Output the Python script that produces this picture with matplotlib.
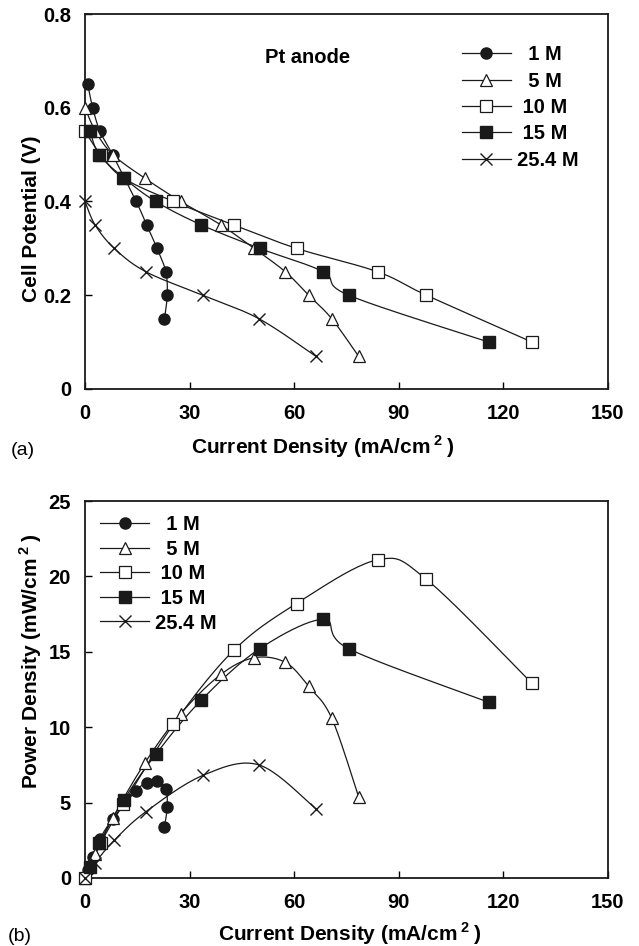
import matplotlib
matplotlib.use("Agg")
import matplotlib.pyplot as plt
from matplotlib.lines import Line2D
import numpy as np

plt.rcParams['font.family'] = ['Liberation Sans', 'DejaVu Sans']
plt.rcParams['font.weight'] = 'bold'
plt.rcParams['mathtext.fontset'] = 'custom'
plt.rcParams['mathtext.rm'] = 'Liberation Sans:bold'
plt.rcParams['mathtext.bf'] = 'Liberation Sans:bold'

FS = 14.5
FS_LAB = 15

# current density (mA/cm2), cell potential (V), power density (mW/cm2)
labels = ['1 M', '5 M', '10 M', '15 M', '25.4 M']

i_1m = [0.8, 2.2, 4.3, 7.9, 14.7, 17.7, 20.7, 23.2, 23.6, 22.8]
v_1m = [0.65, 0.60, 0.55, 0.50, 0.40, 0.35, 0.30, 0.25, 0.20, 0.15]
p_1m = [0.5, 1.4, 2.6, 3.9, 5.8, 6.3, 6.4, 5.9, 4.7, 3.4]

i_5m = [0, 3, 8, 17.1, 27.5, 39, 48.5, 57.5, 64.2, 70.8, 78.5]
v_5m = [0.60, 0.55, 0.50, 0.45, 0.40, 0.35, 0.30, 0.25, 0.20, 0.15, 0.07]
p_5m = [0, 1.6, 4.0, 7.6, 10.9, 13.5, 14.6, 14.3, 12.7, 10.6, 5.4]

i_10m = [0, 4.5, 11, 25.4, 42.7, 60.7, 84, 98, 128.3]
v_10m = [0.55, 0.50, 0.45, 0.40, 0.35, 0.30, 0.25, 0.20, 0.10]
p_10m = [0, 2.3, 4.9, 10.2, 15.1, 18.2, 21.1, 19.8, 12.9]

i_15m = [1.4, 4.1, 11.2, 20.3, 33.4, 50.1, 68.4, 75.7, 115.9]
v_15m = [0.55, 0.50, 0.45, 0.40, 0.35, 0.30, 0.25, 0.20, 0.10]
p_15m = [0.75, 2.3, 5.2, 8.2, 11.8, 15.2, 17.15, 15.2, 11.65]

i_25m = [0, 2.9, 8.4, 17.5, 33.8, 49.9, 66.2]
v_25m = [0.40, 0.35, 0.30, 0.25, 0.20, 0.15, 0.07]
p_25m = [0, 1.0, 2.5, 4.4, 6.8, 7.5, 4.6]

x_ticks = [0, 30, 60, 90, 120, 150]
v_ticks = [0, 0.2, 0.4, 0.6, 0.8]
v_ticklabels = ['0', '0.2', '0.4', '0.6', '0.8']
p_ticks = [0, 5, 10, 15, 20, 25]

LC = '#1a1a1a'
styles = [
    dict(marker='o', ms=8, mfc=LC, mec=LC),
    dict(marker='^', ms=9, mfc='white', mec=LC, mew=0.9),
    dict(marker='s', ms=8, mfc='white', mec=LC, mew=0.9),
    dict(marker='s', ms=8, mfc=LC, mec=LC),
    dict(marker='x', ms=9, mfc='none', mec=LC, mew=1.0),
]


def smooth(x, y, sx, sy, n=24):
    # excel-like smoothed line, built in screen-ish scale
    pts = np.column_stack([np.asarray(x, float) * sx, np.asarray(y, float) * sy])
    ext = np.vstack([pts[0], pts, pts[-1]])
    t = np.linspace(0, 1, n)[:, None]
    segs = []
    for k in range(len(pts) - 1):
        p0, p1, p2, p3 = ext[k], ext[k + 1], ext[k + 2], ext[k + 3]
        c1 = p1 + (p2 - p0) / 6
        c2 = p2 - (p3 - p1) / 6
        segs.append((1 - t) ** 3 * p1 + 3 * (1 - t) ** 2 * t * c1
                    + 3 * (1 - t) * t ** 2 * c2 + t ** 3 * p2)
    s = np.vstack(segs)
    return s[:, 0] / sx, s[:, 1] / sy


def draw(ax, series, ymax):
    sx = 523 / 150
    sy = 376 / ymax
    for (x, y), st in zip(series, styles):
        xs, ys = smooth(x, y, sx, sy)
        ax.plot(xs, ys, color=LC, lw=0.9, zorder=2)
        ax.plot(x, y, ls='none', zorder=3, clip_on=False, **st)


def style_axes(ax, ymax, yt, ytl):
    ax.set_xlim(0, 150)
    ax.set_ylim(0, ymax)
    ax.set_xticks(x_ticks)
    ax.set_yticks(yt)
    ax.set_yticklabels(ytl)
    ax.tick_params(direction='in', length=5, width=1.0, labelsize=FS)
    ax.tick_params(axis='x', pad=11)
    ax.tick_params(axis='y', pad=10)
    for sp in ax.spines.values():
        sp.set_linewidth(1.3)
        sp.set_color(LC)


def add_legend(ax, x, y, spacing):
    handles = [Line2D([], [], color=LC, lw=0.9, **st) for st in styles]
    names = ['  1 M', '  5 M', ' 10 M', ' 15 M', '25.4 M']
    leg = ax.legend(handles, names, loc='upper left', bbox_to_anchor=(x, y),
                    frameon=False, borderpad=0, borderaxespad=0,
                    handlelength=2.43, handletextpad=0.3, labelspacing=spacing,
                    prop=dict(size=FS, weight='bold'))
    return leg


xlab = r'Current Density (mA/cm$\,^{2}\,$)'

fig = plt.figure(figsize=(6.39, 9.46), dpi=100)
ax1 = fig.add_axes([0.133, 0.5888, 0.818, 0.3964])
ax2 = fig.add_axes([0.133, 0.0719, 0.818, 0.3985])

draw(ax1, [(i_1m, v_1m), (i_5m, v_5m), (i_10m, v_10m), (i_15m, v_15m), (i_25m, v_25m)], 0.8)
style_axes(ax1, 0.8, v_ticks, v_ticklabels)
ax1.set_xlabel(xlab, fontsize=FS_LAB, fontweight='bold', va='center')
ax1.xaxis.set_label_coords(0.455, -0.155)
ax1.set_ylabel('Cell Potential (V)', fontsize=FS_LAB, fontweight='bold', va='center')
ax1.yaxis.set_label_coords(-0.103, 0.453)
ax1.text(0.426, 0.885, 'Pt anode', transform=ax1.transAxes, fontsize=FS,
         fontweight='bold', ha='center', va='center')
add_legend(ax1, 0.721, 0.917, 0.37)

draw(ax2, [(i_1m, p_1m), (i_5m, p_5m), (i_10m, p_10m), (i_15m, p_15m), (i_25m, p_25m)], 25)
style_axes(ax2, 25, p_ticks, [str(t) for t in p_ticks])
ax2.set_xlabel(xlab, fontsize=FS_LAB, fontweight='bold', va='center')
ax2.xaxis.set_label_coords(0.507, -0.149)
ax2.set_ylabel(r'Power Density (mW/cm$\,^{2}\,$)', fontsize=FS_LAB, fontweight='bold', va='center')
ax2.yaxis.set_label_coords(-0.103, 0.573)
add_legend(ax2, 0.029, 0.963, 0.28)

fig.text(11 / 639, 1 - 450 / 946, '(a)', fontsize=14, fontweight='normal', va='center')
fig.text(8 / 639, 1 - 936 / 946, '(b)', fontsize=14, fontweight='normal', va='center')

fig.savefig('out.png', dpi=100, facecolor='white')
